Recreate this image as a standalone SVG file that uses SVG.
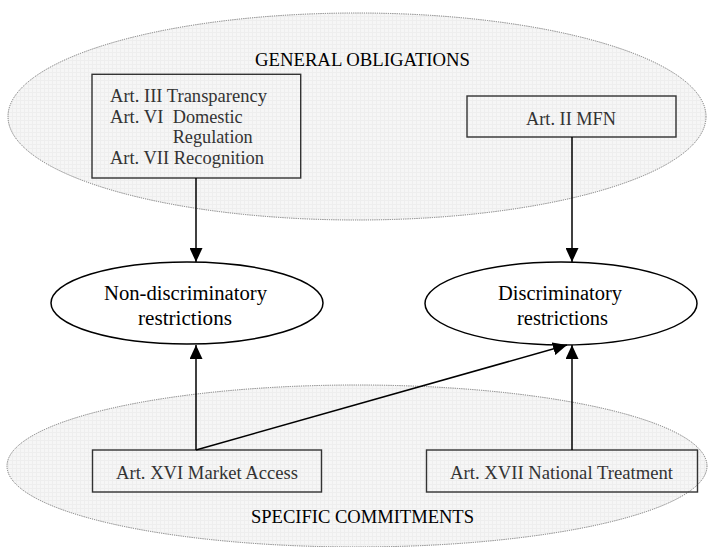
<svg xmlns="http://www.w3.org/2000/svg" width="708" height="547" viewBox="0 0 708 547">
<style>
.region{fill:url(#grid);stroke:#777;stroke-width:1;stroke-dasharray:1.2 1}
.box{fill:none;stroke:#333;stroke-width:1.4}
.node{fill:#fff;stroke:#000;stroke-width:1.5}
.t{font-family:"Liberation Serif","Times New Roman",serif;fill:#000}
.bt{font-family:"Liberation Serif","Times New Roman",serif;fill:#333;font-size:18.6px}
.edge{stroke:#000;stroke-width:1.5;fill:none}
</style>
<defs>
<pattern id="grid" width="4" height="4" patternUnits="userSpaceOnUse">
<rect width="4" height="4" fill="#f6f6f6"/>
<path d="M0,0.5 H4 M0.5,0 V4" stroke="#eeeeee" stroke-width="1"/>
</pattern>
<marker id="ah" viewBox="0 0 14 13" refX="14" refY="6.5" markerWidth="14" markerHeight="13" markerUnits="userSpaceOnUse" orient="auto">
<path d="M0,0 L14,6.5 L0,13 Z" fill="#000"/>
</marker>
</defs>
<g id="general-obligations">
<ellipse class="region" cx="357" cy="116.5" rx="349" ry="103.5"/>
<text class="t" x="362.5" y="66" font-size="18.8" text-anchor="middle" textLength="215" lengthAdjust="spacingAndGlyphs">GENERAL OBLIGATIONS</text>
</g>
<g id="specific-commitments">
<ellipse class="region" cx="357" cy="466" rx="350" ry="81"/>
<text class="t" x="362.5" y="523" font-size="18.8" text-anchor="middle" textLength="223" lengthAdjust="spacingAndGlyphs">SPECIFIC COMMITMENTS</text>
</g>
<g id="box-art-iii-vi-vii">
<rect class="box" x="92" y="74.3" width="208.7" height="103.7"/>
<text class="bt" x="110" y="102" textLength="157" lengthAdjust="spacingAndGlyphs">Art. III Transparency</text>
<text class="bt" x="110" y="122.5">Art. VI</text>
<text class="bt" x="172.7" y="122.5" textLength="70" lengthAdjust="spacingAndGlyphs">Domestic</text>
<text class="bt" x="172.7" y="143" textLength="80" lengthAdjust="spacingAndGlyphs">Regulation</text>
<text class="bt" x="110" y="164" textLength="154" lengthAdjust="spacingAndGlyphs">Art. VII Recognition</text>
</g>
<g id="box-art-ii">
<rect class="box" x="467" y="96" width="209" height="41"/>
<text class="bt" x="571" y="124.5" text-anchor="middle" textLength="90" lengthAdjust="spacingAndGlyphs">Art. II MFN</text>
</g>
<g id="box-art-xvi">
<rect class="box" x="92.5" y="450" width="229" height="42"/>
<text class="bt" x="207" y="478.5" text-anchor="middle" textLength="182" lengthAdjust="spacingAndGlyphs">Art. XVI Market Access</text>
</g>
<g id="box-art-xvii">
<rect class="box" x="426.5" y="450" width="271" height="42"/>
<text class="bt" x="561.5" y="478.5" text-anchor="middle" textLength="223" lengthAdjust="spacingAndGlyphs">Art. XVII National Treatment</text>
</g>
<g id="node-non-discriminatory">
<ellipse class="node" cx="187" cy="303" rx="136" ry="41"/>
<text class="t" x="185.5" y="299.5" font-size="20.8" text-anchor="middle" textLength="163" lengthAdjust="spacingAndGlyphs">Non-discriminatory</text>
<text class="t" x="185" y="325" font-size="20.8" text-anchor="middle" textLength="94" lengthAdjust="spacingAndGlyphs">restrictions</text>
</g>
<g id="node-discriminatory">
<ellipse class="node" cx="561" cy="303.5" rx="136" ry="41.5"/>
<text class="t" x="560" y="299.5" font-size="20.8" text-anchor="middle" textLength="124" lengthAdjust="spacingAndGlyphs">Discriminatory</text>
<text class="t" x="562.5" y="325" font-size="20.8" text-anchor="middle" textLength="91" lengthAdjust="spacingAndGlyphs">restrictions</text>
</g>
<g id="connectors">
<line class="edge" x1="196" y1="178" x2="196" y2="262" marker-end="url(#ah)"/>
<line class="edge" x1="572" y1="137" x2="572" y2="262" marker-end="url(#ah)"/>
<line class="edge" x1="196" y1="450" x2="196" y2="345" marker-end="url(#ah)"/>
<line class="edge" x1="572" y1="450" x2="572" y2="345" marker-end="url(#ah)"/>
<line class="edge" x1="196" y1="450" x2="567" y2="345" marker-end="url(#ah)"/>
</g>
</svg>
